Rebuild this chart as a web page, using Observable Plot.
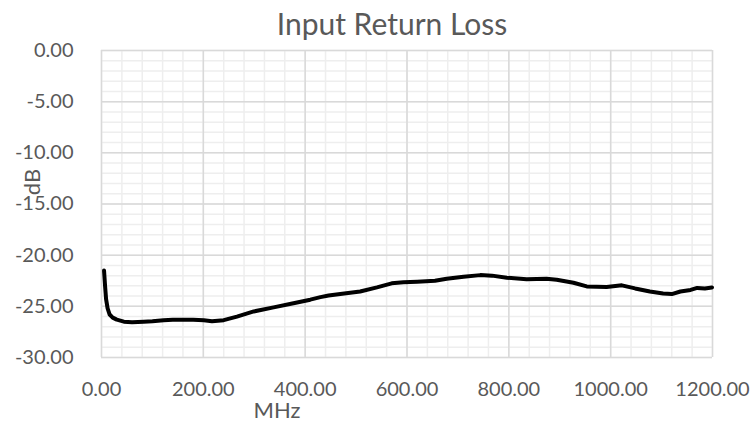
<!DOCTYPE html>
<html><head><meta charset="utf-8">
<script src="https://cdn.jsdelivr.net/npm/d3@7"></script>
<script src="https://cdn.jsdelivr.net/npm/@observablehq/plot@0.6"></script>
<style>body{margin:0;background:#fff;}</style>
</head><body><div id="chart"></div>
<script>
const freqMHz = [5,7,9,12,16,22,30,44,60,83,100,122,140,162,180,201,217,240,266,299,338,377,410,430,446,469,508,541,570,593,620,655,678,711,744,767,796,835,874,894,927,953,992,1022,1048,1077,1103,1120,1137,1157,1170,1185,1199];
const returnLossDB = [-21.5,-23.0,-24.3,-25.2,-25.8,-26.1,-26.3,-26.5,-26.55,-26.5,-26.45,-26.35,-26.3,-26.3,-26.32,-26.35,-26.45,-26.35,-26.0,-25.5,-25.1,-24.7,-24.35,-24.1,-23.95,-23.8,-23.55,-23.15,-22.75,-22.65,-22.6,-22.5,-22.3,-22.1,-21.95,-22.0,-22.2,-22.35,-22.3,-22.4,-22.7,-23.05,-23.1,-22.95,-23.25,-23.55,-23.75,-23.8,-23.55,-23.4,-23.2,-23.25,-23.15];
const xTicks = [0,200,400,600,800,1000,1200];
const yTicks = [0,-5,-10,-15,-20,-25,-30];
const xMinor = d3.range(0,1201,40);
const yMinor = d3.range(0,-31,-1);
const titleText = "Input Return Loss";
const xLabel = "MHz";
const yLabel = "dB";

const data = freqMHz.map((f,i)=>({f, db: returnLossDB[i]}));
const fmt = d => d.toFixed(2);
const chart = Plot.plot({
  width:750, height:423, marginTop:50, marginBottom:66, marginLeft:101, marginRight:38,
  style:{fontFamily:"Lato", fontSize:"20px", color:"#595959", background:"#fff"},
  x:{domain:[0,1200]}, y:{domain:[-30,0]},
  marks:[
    Plot.ruleX(xMinor,{stroke:"#eeeeee", strokeWidth:1.5}),
    Plot.ruleY(yMinor,{stroke:"#eeeeee", strokeWidth:1.5}),
    Plot.ruleX(xTicks,{stroke:"#d9d9d9", strokeWidth:1.5}),
    Plot.ruleY(yTicks,{stroke:"#d9d9d9", strokeWidth:1.5}),
    Plot.axisX(xTicks,{tickSize:0, tickPadding:24, tickFormat:fmt, label:null, fill:"#595959"}),
    Plot.axisY(yTicks,{tickSize:0, tickPadding:28, tickFormat:fmt, label:null, fill:"#595959"}),
    Plot.lineY(data,{x:"f", y:"db", stroke:"#000", strokeWidth:4, strokeLinejoin:"round", strokeLinecap:"round"}),
    Plot.text([titleText],{text:d=>d, frameAnchor:"top", lineAnchor:"middle", textAnchor:"middle", dx:-15, dy:-25, fontSize:30, fill:"#595959"}),
    Plot.text([xLabel],{text:d=>d, frameAnchor:"bottom", lineAnchor:"middle", textAnchor:"middle", dx:-130, dy:53, fontSize:22, fill:"#595959"}),
    Plot.text([yLabel],{text:d=>d, frameAnchor:"left", lineAnchor:"middle", textAnchor:"middle", rotate:-90, dx:-69, dy:-22, fontSize:22, fill:"#595959"})
  ]
});
document.getElementById("chart").appendChild(chart);
</script>
</body></html>
